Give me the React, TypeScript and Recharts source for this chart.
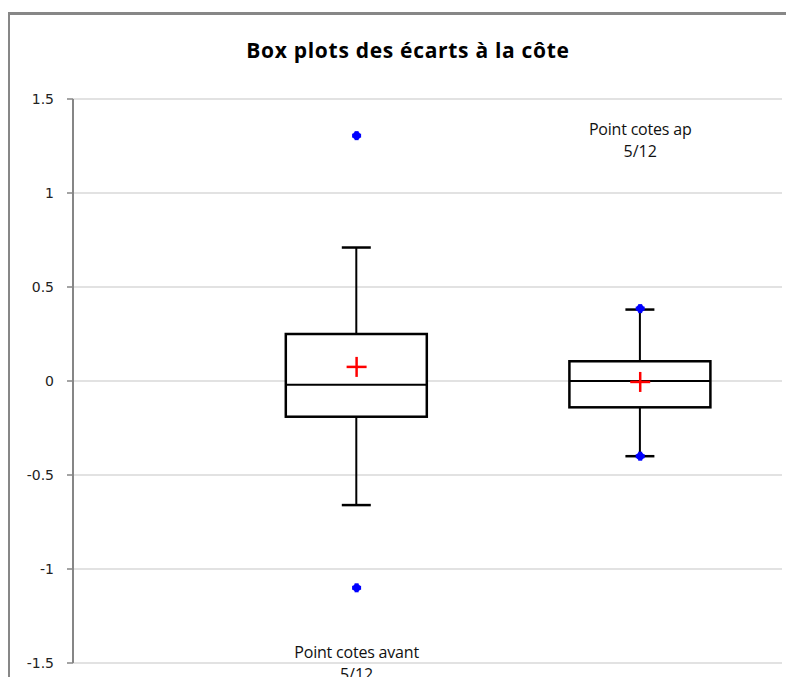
import React from 'react';
import { ComposedChart, Bar, Scatter, XAxis, YAxis, CartesianGrid } from 'recharts';

const categories = ['Point cotes avant', 'Point cotes ap'];
const categorySub = ['5/12', '5/12'];
const xPositions = [2, 4];
const whiskerLow = [-0.66, -0.4];
const q1 = [-0.19, -0.14];
const median = [-0.02, 0.0];
const q3 = [0.25, 0.105];
const whiskerHigh = [0.71, 0.38];
const means = [0.075, -0.005];
const outlierX = [2, 2, 4, 4];
const outlierY = [1.305, -1.1, 0.385, -0.4];
const labelY = [-1.468, 1.314];
const yTicks = [-1.5, -1, -0.5, 0, 0.5, 1, 1.5];

const boxData = xPositions.map((x, i) => ({
  x,
  low: whiskerLow[i],
  high: whiskerHigh[i],
  range: [whiskerLow[i], whiskerHigh[i]],
  q1: q1[i],
  median: median[i],
  q3: q3[i],
}));
const meanData = xPositions.map((x, i) => ({ x, y: means[i] }));
const outlierData = outlierX.map((x, i) => ({ x, y: outlierY[i] }));
const labelData = xPositions.map((x, i) => ({ x, y: labelY[i], t1: categories[i], t2: categorySub[i] }));

const BoxShape = (props: any) => {
  const { x, y, width, height, payload } = props;
  const top = Math.min(y, y + height);
  const h = Math.abs(height);
  const { low, high } = payload;
  const toY = (v: number) => top + ((high - v) / (high - low)) * h;
  const cx = x + width / 2;
  const cap = 14.5;
  const yQ1 = toY(payload.q1);
  const yQ3 = toY(payload.q3);
  const yMed = toY(payload.median);
  return (
    <g>
      <line x1={cx} x2={cx} y1={top} y2={yQ3} stroke="#000" strokeWidth={2} />
      <line x1={cx} x2={cx} y1={yQ1} y2={top + h} stroke="#000" strokeWidth={2} />
      <line x1={cx - cap} x2={cx + cap} y1={top} y2={top} stroke="#000" strokeWidth={2.5} />
      <line x1={cx - cap} x2={cx + cap} y1={top + h} y2={top + h} stroke="#000" strokeWidth={2.5} />
      <rect x={x} y={yQ3} width={width} height={yQ1 - yQ3} fill="#fff" stroke="#000" strokeWidth={2.5} />
      <line x1={x} x2={x + width} y1={yMed} y2={yMed} stroke="#000" strokeWidth={2} />
    </g>
  );
};

const MeanShape = (props: any) => {
  const { cx, cy } = props;
  return (
    <g>
      <line x1={cx - 10} x2={cx + 10} y1={cy} y2={cy} stroke="#ff0000" strokeWidth={2.5} />
      <line x1={cx} x2={cx} y1={cy - 10} y2={cy + 10} stroke="#ff0000" strokeWidth={2.5} />
    </g>
  );
};

const OutlierShape = (props: any) => {
  const { cx, cy } = props;
  return (
    <g>
      <circle cx={cx} cy={cy} r={3.8} fill="#0000ff" />
      <rect x={cx - 4.5} y={cy - 2} width={9} height={4} fill="#0000ff" />
      <rect x={cx - 2} y={cy - 4.5} width={4} height={9} fill="#0000ff" />
    </g>
  );
};

const LabelShape = (props: any) => {
  const { cx, cy, payload } = props;
  return (
    <g>
      <text x={cx} y={cy + 1} textAnchor="middle" fontSize={16} fontFamily="'Open Sans', sans-serif" fill="#111" letterSpacing={-0.2}>
        {payload.t1}
      </text>
      <text x={cx} y={cy + 23} textAnchor="middle" fontSize={16} fontFamily="'Open Sans', sans-serif" fill="#111">
        {payload.t2}
      </text>
    </g>
  );
};

const YTick = (props: any) => {
  const { x, y, payload } = props;
  return (
    <text x={x} y={y} dy={5} textAnchor="end" fontSize={14} fontFamily="'DejaVu Sans', sans-serif" fill="#222">
      {String(payload.value)}
    </text>
  );
};

export default function App() {
  return (
    <div style={{ position: 'relative', width: 794, height: 685, margin: -8, overflow: 'hidden', background: '#fff' }}>
      <div
        style={{
          position: 'absolute',
          left: 7,
          top: 12,
          width: 820,
          height: 700,
          border: '3px solid #878787',
          borderRight: 'none',
          borderBottom: 'none',
          boxSizing: 'border-box',
        }}
      />
      <svg style={{ position: 'absolute', left: 0, top: 0 }} width={794} height={100}>
        <text
          x={408}
          y={58}
          textAnchor="middle"
          fontFamily="'Open Sans', sans-serif"
          fontWeight={700}
          fontSize={21}
          letterSpacing={0.7}
          fill="#000"
        >
          Box plots des écarts à la côte
        </text>
      </svg>
      <div style={{ position: 'absolute', left: 0, top: 0 }}>
        <ComposedChart
          width={794}
          height={685}
          data={boxData}
          margin={{ top: 99, right: 12, bottom: 22, left: 13 }}
        >
          <CartesianGrid vertical={false} stroke="#d9d9d9" strokeWidth={1.5} />
          <XAxis dataKey="x" type="number" domain={[0, 5]} hide />
          <YAxis
            type="number"
            domain={[-1.5, 1.5]}
            ticks={yTicks}
            width={60}
            axisLine={{ stroke: '#868686', strokeWidth: 2 }}
            tickLine={{ stroke: '#868686', strokeWidth: 1.5 }}
            tickSize={6}
            tickMargin={13}
            tick={YTick}
          />
          <Bar dataKey="range" barSize={141} shape={BoxShape} isAnimationActive={false} />
          <Scatter data={outlierData} dataKey="y" shape={OutlierShape} isAnimationActive={false} />
          <Scatter data={meanData} dataKey="y" shape={MeanShape} isAnimationActive={false} />
          <Scatter data={labelData} dataKey="y" shape={LabelShape} isAnimationActive={false} />
        </ComposedChart>
      </div>
    </div>
  );
}
